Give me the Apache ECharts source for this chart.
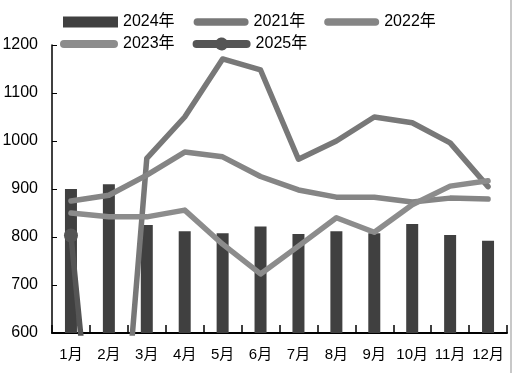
<!DOCTYPE html>
<html><head><meta charset="utf-8">
<script src="https://cdn.jsdelivr.net/npm/echarts@6/dist/echarts.min.js"></script>
<style>html,body{margin:0;padding:0;background:#fff}#c{width:514px;height:373px}</style>
</head><body><div id="c"></div>
<script>
var months = ['1月','2月','3月','4月','5月','6月','7月','8月','9月','10月','11月','12月'];
var yTicks = [600, 700, 800, 900, 1000, 1100, 1200];
var s2024 = [900, 910, 825, 812, 808, 822, 806, 812, 808, 827, 804, 792];
var s2021 = [0, 0, 964, 1050, 1171, 1148, 962, 1000, 1050, 1038, 996, 905];
var s2022 = [875, 887, 929, 977, 967, 926, 898, 883, 883, 873, 881, 879];
var s2023 = [850, 842, 842, 856, 785, 723, 781, 840, 810, 867, 906, 917];
var s2025 = [803, 0, null, null, null, null, null, null, null, null, null, null];

var font = '"Liberation Sans", "Noto Sans CJK SC", sans-serif';
var chart = echarts.init(document.getElementById('c'), null, {renderer: 'canvas'});
function lineSeries(name, data, color, extra) {
  var s = {
    name: name, type: 'line', data: data, symbol: 'none', smooth: false,
    connectNulls: false, clip: true,
    lineStyle: {color: color, width: 5.5, cap: 'round', join: 'round'},
    itemStyle: {color: color, opacity: 1}, z: 3
  };
  for (var k in extra) s[k] = extra[k];
  return s;
}
var pill = 'path://M4,0 L54,0 A4,4 0 0 1 54,8 L4,8 A4,4 0 0 1 4,0 Z';
var pill13 = 'path://M4,2.5 L54,2.5 A4,4 0 0 1 54,10.5 L4,10.5 A4,4 0 0 1 4,2.5 Z M0,0 L0,0 M58,13 L58,13';
var pillDot = 'path://M4,2.5 L23.88,2.5 A6.5,6.5 0 0 1 34.12,2.5 L54,2.5 A4,4 0 0 1 54,10.5 L34.12,10.5 A6.5,6.5 0 0 1 23.88,10.5 L4,10.5 A4,4 0 0 1 4,2.5 Z M0,0 L0,0 M58,13 L58,13';
var legendText = {fontSize: 16, fontFamily: font, color: '#000'};
chart.setOption({
  animation: false,
  backgroundColor: '#fff',
  grid: {left: 52, right: 7, top: 45, bottom: 40, containLabel: false, outerBoundsMode: 'none'},
  legend: [{
    left: 63, top: 14, padding: 0, itemWidth: 55, itemHeight: 11, itemGap: 19,
    textStyle: legendText,
    data: [
      {name: '2024年', icon: 'rect'},
      {name: '2021年', icon: pill},
      {name: '2022年', icon: pill}
    ]
  }, {
    left: 60, top: 36, padding: 0, itemWidth: 58, itemHeight: 13, itemGap: 18,
    textStyle: legendText,
    data: [
      {name: '2023年', icon: pill13},
      {name: '2025年', icon: pillDot}
    ]
  }],
  xAxis: {
    type: 'category', data: months, boundaryGap: true,
    axisLine: {lineStyle: {color: '#000', width: 2}},
    axisTick: {show: true, inside: true, length: 8, alignWithLabel: false, lineStyle: {color: '#000', width: 1.5}},
    axisLabel: {fontSize: 15, fontFamily: font, color: '#000', margin: 14, interval: 0}
  },
  yAxis: {
    type: 'value', min: yTicks[0], max: yTicks[yTicks.length - 1], interval: 100,
    axisLine: {show: true, lineStyle: {color: '#000', width: 1.5}},
    axisTick: {show: true, inside: true, length: 5, lineStyle: {color: '#000', width: 1}},
    axisLabel: {fontSize: 16, fontFamily: font, color: '#000', margin: 14, formatter: function (v) { return String(v); }},
    splitLine: {show: false}
  },
  series: [
    {name: '2024年', type: 'bar', data: s2024, barWidth: 12, itemStyle: {color: '#404040'}, z: 2},
    lineSeries('2021年', s2021, '#787878'),
    lineSeries('2022年', s2022, '#858585'),
    lineSeries('2023年', s2023, '#8c8c8c'),
    lineSeries('2025年', s2025, '#555555', {
      symbol: 'circle', symbolSize: 14, showSymbol: true, showAllSymbol: true, z: 5,
      itemStyle: {color: '#555555', borderColor: '#555555', borderWidth: 0, opacity: 1}
    })
  ],
  graphic: [{type: 'rect', shape: {x: 510, y: 0, width: 2, height: 373}, style: {fill: '#c8c8c8'}, silent: true}]
});
</script></body></html>
